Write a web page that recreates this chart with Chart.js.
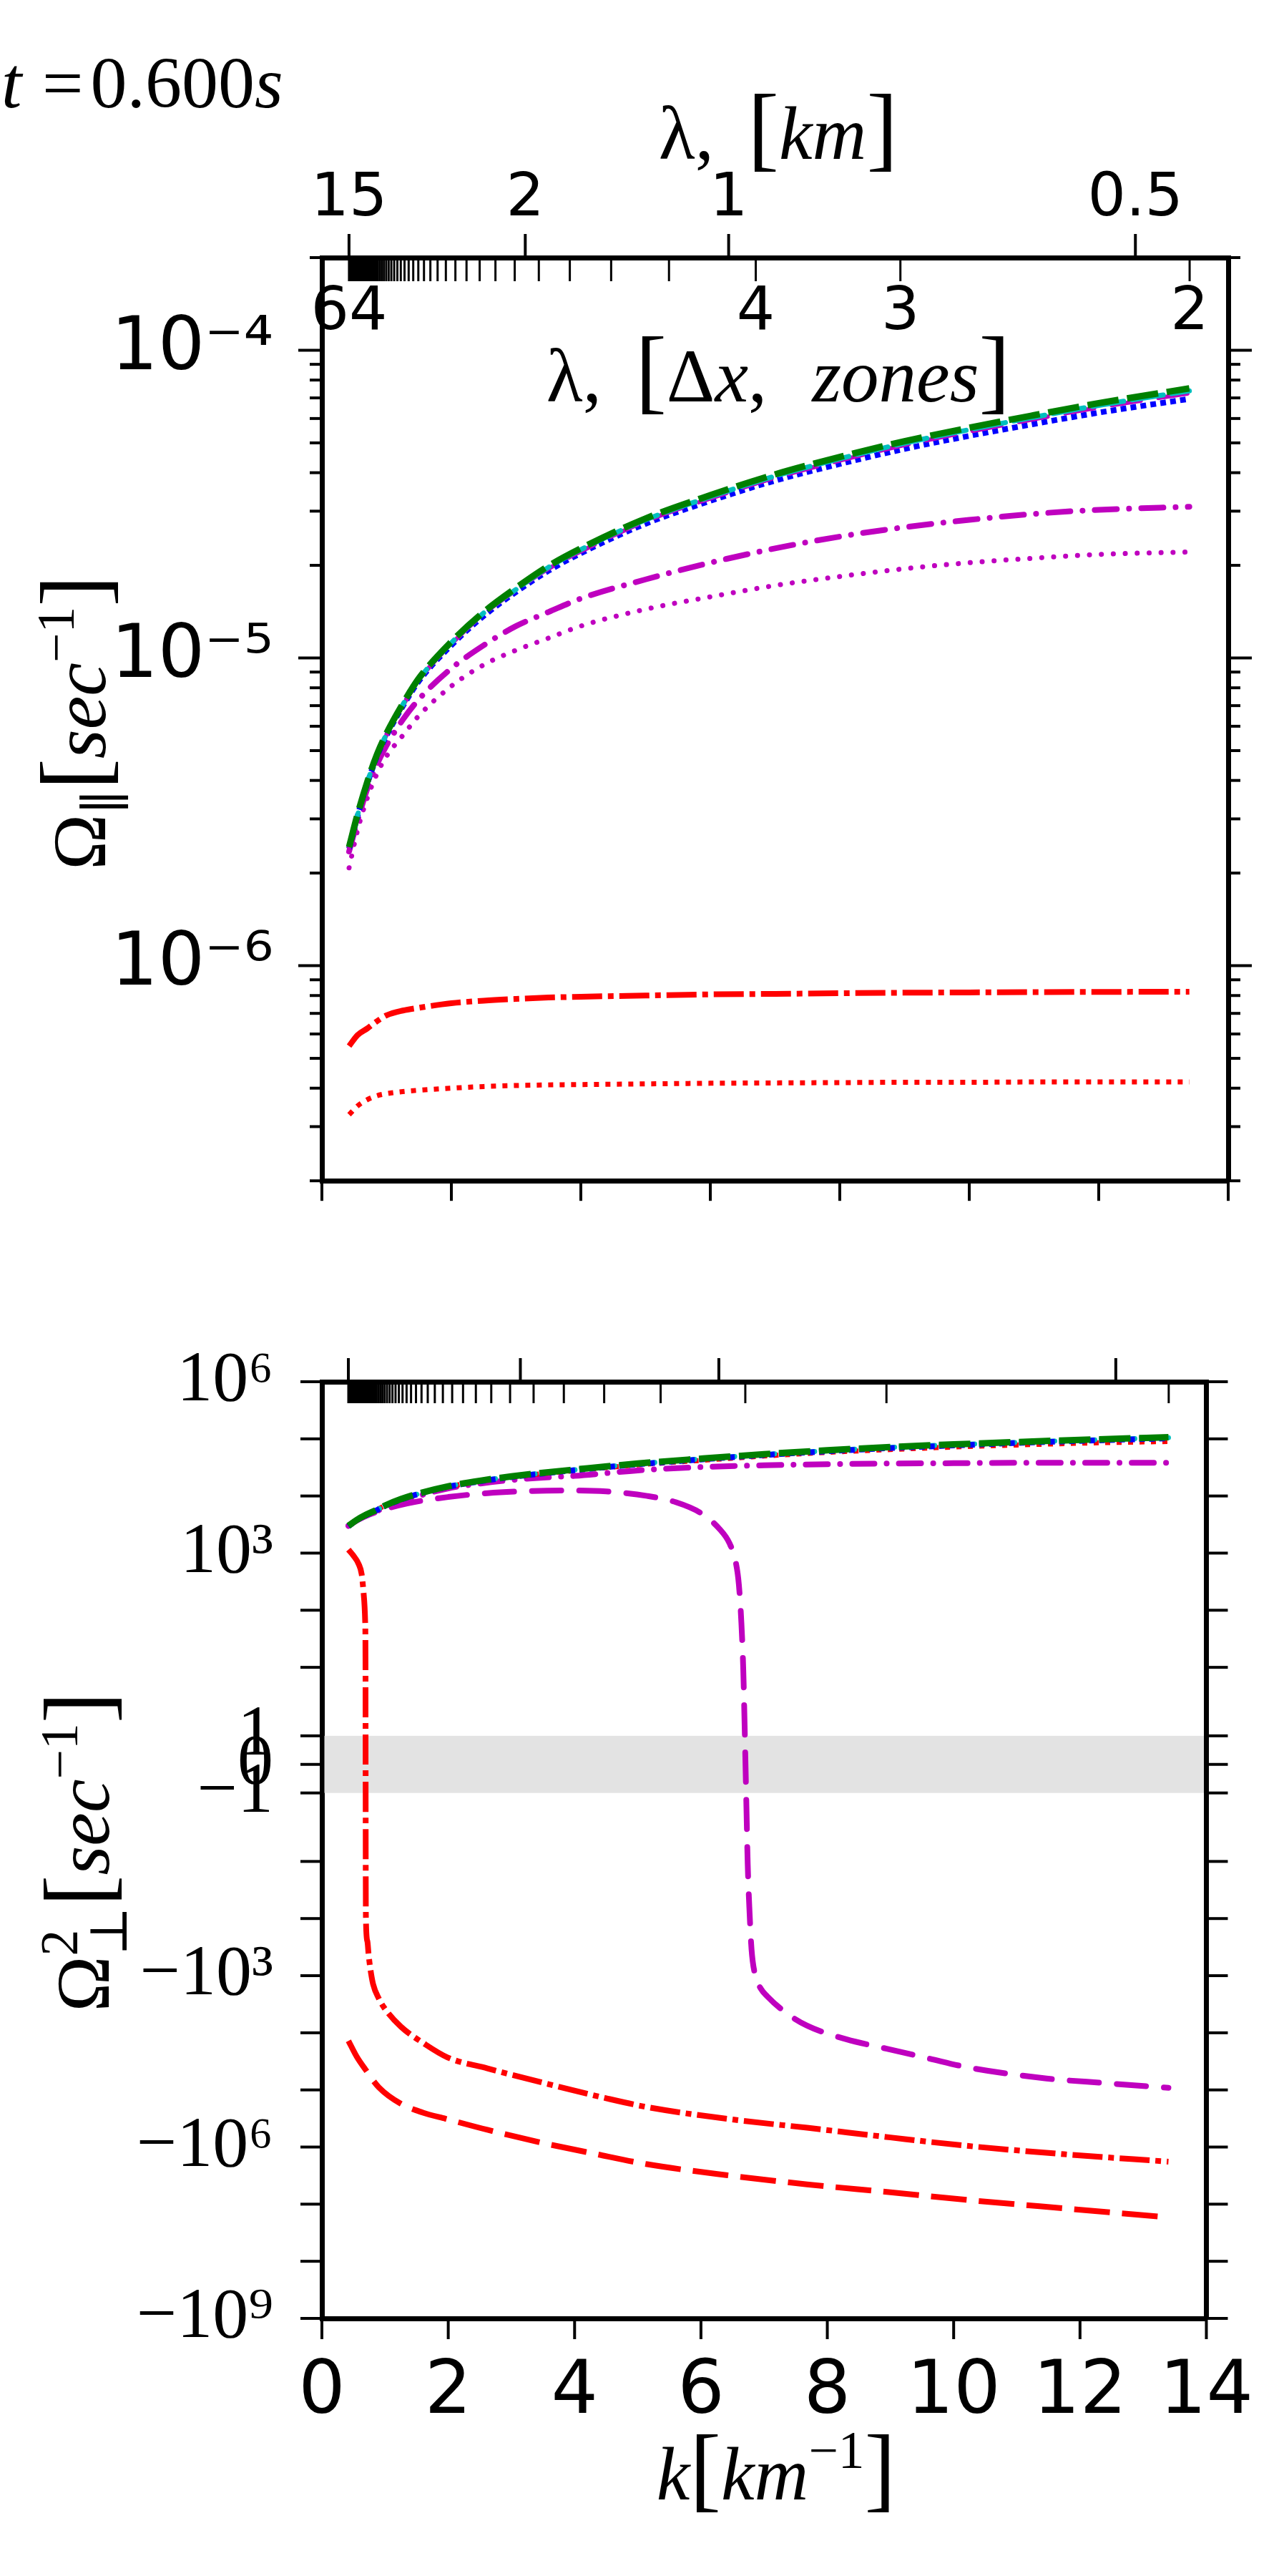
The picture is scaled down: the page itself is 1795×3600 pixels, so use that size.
<!DOCTYPE html>
<html><head><meta charset="utf-8">
<script src="https://cdn.jsdelivr.net/npm/chart.js@4.4.1/dist/chart.umd.min.js"></script>
<style>
html,body{margin:0;padding:0;background:#fff;}
body{width:1795px;height:3600px;position:relative;overflow:hidden;}
canvas{position:absolute;left:0;}
#c1{top:0;width:1795px;height:1780px;}
#c2{top:1780px;width:1795px;height:1820px;}
</style></head><body>
<canvas id="c1" width="1795" height="1780"></canvas>
<canvas id="c2" width="1795" height="1820"></canvas>
<script>
// ---------------- data ----------------
const kTop = [0.42,0.55,0.7,0.85,1.0,1.25,1.5,2.0,2.5,3.0,3.5,4.0,5.0,6.0,7.0,8.0,9.0,10.0,11.0,12.0,13.4];
const omParGreen   = [2.43e-6,3.1e-6,3.95e-6,4.85e-6,5.7e-6,7.1e-6,8.6e-6,1.13e-5,1.41e-5,1.69e-5,1.99e-5,2.27e-5,2.84e-5,3.38e-5,3.95e-5,4.5e-5,5.06e-5,5.6e-5,6.15e-5,6.73e-5,7.52e-5];
const omParCyan    = [2.42e-6,3.08e-6,3.93e-6,4.82e-6,5.66e-6,7.05e-6,8.54e-6,1.12e-5,1.4e-5,1.67e-5,1.97e-5,2.25e-5,2.81e-5,3.34e-5,3.9e-5,4.44e-5,4.99e-5,5.52e-5,6.06e-5,6.62e-5,7.38e-5];
const omParMagDash = [2.41e-6,3.07e-6,3.91e-6,4.8e-6,5.63e-6,7.0e-6,8.48e-6,1.11e-5,1.39e-5,1.66e-5,1.95e-5,2.22e-5,2.78e-5,3.3e-5,3.85e-5,4.38e-5,4.92e-5,5.44e-5,5.97e-5,6.52e-5,7.25e-5];
const omParBlue    = [2.4e-6,3.06e-6,3.9e-6,4.78e-6,5.6e-6,6.97e-6,8.42e-6,1.1e-5,1.37e-5,1.64e-5,1.92e-5,2.19e-5,2.73e-5,3.24e-5,3.77e-5,4.27e-5,4.78e-5,5.27e-5,5.76e-5,6.27e-5,6.95e-5];
const omParMagDashDot = [2.35e-6,2.95e-6,3.75e-6,4.5e-6,5.2e-6,6.3e-6,7.35e-6,9.25e-6,1.1e-5,1.27e-5,1.41e-5,1.56e-5,1.8e-5,2.04e-5,2.27e-5,2.48e-5,2.66e-5,2.81e-5,2.94e-5,3.03e-5,3.1e-5];
const omParMagDot  = [2.08e-6,2.75e-6,3.5e-6,4.2e-6,4.8e-6,5.6e-6,6.5e-6,8.1e-6,9.5e-6,1.06e-5,1.16e-5,1.27e-5,1.44e-5,1.58e-5,1.72e-5,1.84e-5,1.95e-5,2.04e-5,2.11e-5,2.17e-5,2.21e-5];
const omParRedDashDot = [5.48e-7,5.95e-7,6.25e-7,6.6e-7,6.9e-7,7.15e-7,7.3e-7,7.55e-7,7.7e-7,7.8e-7,7.88e-7,7.93e-7,8.0e-7,8.07e-7,8.1e-7,8.14e-7,8.17e-7,8.19e-7,8.21e-7,8.22e-7,8.23e-7];
const omParRedDot  = [3.28e-7,3.5e-7,3.67e-7,3.78e-7,3.84e-7,3.9e-7,3.94e-7,4.0e-7,4.05e-7,4.08e-7,4.1e-7,4.11e-7,4.13e-7,4.15e-7,4.16e-7,4.17e-7,4.18e-7,4.18e-7,4.19e-7,4.19e-7,4.19e-7];

const kBot = [0.42,0.55,0.7,0.85,1.0,1.25,1.5,2.0,2.5,3.0,3.5,4.0,5.0,6.0,7.0,8.0,9.0,10.0,11.0,12.0,13.4];
const omPerpGreen  = [3.0e3,3.8e3,4.7e3,5.6e3,6.8e3,8.8e3,1.08e4,1.48e4,1.85e4,2.2e4,2.55e4,2.9e4,3.7e4,4.5e4,5.4e4,6.3e4,7.2e4,8.0e4,8.8e4,9.6e4,1.07e5];
const omPerpCyan   = [2.98e3,3.78e3,4.65e3,5.55e3,6.75e3,8.7e3,1.07e4,1.47e4,1.83e4,2.18e4,2.52e4,2.87e4,3.65e4,4.45e4,5.32e4,6.2e4,7.1e4,7.88e4,8.66e4,9.45e4,1.05e5];
const omPerpBlue   = [2.95e3,3.75e3,4.6e3,5.5e3,6.7e3,8.6e3,1.06e4,1.45e4,1.8e4,2.14e4,2.48e4,2.82e4,3.58e4,4.35e4,5.2e4,6.05e4,6.9e4,7.65e4,8.45e4,9.2e4,1.02e5];
const omPerpRedDot = [3.0e3,3.8e3,4.7e3,5.6e3,6.8e3,8.7e3,1.06e4,1.45e4,1.8e4,2.13e4,2.46e4,2.78e4,3.5e4,4.2e4,5.0e4,5.8e4,6.5e4,7.2e4,7.8e4,8.4e4,9.0e4];
const omPerpMagDashDot = [3.0e3,3.7e3,4.5e3,5.3e3,6.3e3,8.0e3,9.8e3,1.36e4,1.65e4,1.9e4,2.1e4,2.25e4,2.8e4,3.2e4,3.45e4,3.6e4,3.7e4,3.75e4,3.8e4,3.8e4,3.8e4];

const kMagDash = [0.42,0.6,0.85,1.35,2.0,2.62,3.3,3.88,4.5,5.15,5.6,6.0,6.3,6.45,6.55,6.6,6.64,6.67,6.7,6.72,6.74,6.77,6.8,6.86,6.95,7.05,7.35,7.68,8.3,8.94,9.6,10.21,11.47,12.4,13.4];
const omPerpMagDash = [3.0e3,4.0e3,5.2e3,7.4e3,9.6e3,1.12e4,1.22e4,1.25e4,1.2e4,1.0e4,7.8e3,5.0e3,2.6e3,1.5e3,700,283,60,9,0.5,-1.5,-11,-80,-340,-1000,-1700,-2300,-4500,-7500,-1.3e4,-1.9e4,-2.8e4,-4.0e4,-6.3e4,-7.6e4,-9.2e4];
const kRedDashDot = [0.42,0.5,0.58,0.63,0.66,0.685,0.69,0.692,0.694,0.697,0.72,0.74,0.77,0.81,0.9,0.99,1.25,1.62,1.99,2.62,3.5,4.5,5.15,6.5,7.68,9.0,10.2,11.8,13.4];
const omPerpRedDashDot = [1150,900,650,425,200,62,15,0,-15,-103,-250,-435,-800,-1400,-2500,-3700,-7800,-1.55e4,-2.7e4,-4.2e4,-7.5e4,-1.4e5,-2.0e5,-3.3e5,-4.6e5,-6.8e5,-9.5e5,-1.35e6,-1.8e6];
const kRedDash = [0.42,0.55,0.69,0.9,1.25,1.6,1.96,2.62,3.5,4.3,5.15,6.4,7.68,9.0,10.2,11.8,13.4];
const omPerpRedDash = [-1.38e4,-2.6e4,-4.4e4,-9.0e4,-1.75e5,-2.5e5,-3.2e5,-5.0e5,-8.5e5,-1.3e6,-2.0e6,-3.1e6,-4.5e6,-6.2e6,-8.4e6,-1.2e7,-1.7e7];

// ---------------- ticks ----------------
const xTickValues = [0,2,4,6,8,10,12,14];
const xTickLabels = ['0','2','4','6','8','10','12','14'];
const lambdaKmTicks = [15,2,1,0.5];
const lambdaKmLabels = ['15','2','1','0.5'];
const dxKm = 15/64;
const zoneMin = 2, zoneMax = 64;
const zoneLabelCounts = [64,4,3,2];
const topYMajor = [1e-4,1e-5,1e-6];
const topYMajorLabels = ['10\u207B\u2074','10\u207B\u2075','10\u207B\u2076'];
const topYMantissas = [2,3,4,5,6,7,8,9];
const topYExponents = [-7,-6,-5,-4];
const botYMajor = [1e6,1e3,1,0,-1,-1e3,-1e6,-1e9];
const botYMajorLabels = ['10\u2076','10\u00B3','1','0','\u22121','\u221210\u00B3','\u221210\u2076','\u221210\u2079'];
const botYMinor = [1e5,1e4,1e2,1e1,-1e1,-1e2,-1e4,-1e5,-1e7,-1e8];

// ---------------- helpers ----------------
const SERIF = '"Liberation Serif","DejaVu Serif",serif';
const SANS = '"DejaVu Sans",sans-serif';
const LINTHRESH = 2;
function symlog(v){ const a=Math.abs(v); return a<=LINTHRESH ? v/LINTHRESH : Math.sign(v)*(1+Math.log10(a/LINTHRESH)); }
function zoneK(n){ return 2*Math.PI/(n*dxKm); }
function lamK(l){ return 2*Math.PI/l; }

function ds(xs, ys, color, width, dash, cap, tf, offset){
  return {data: xs.map((x,i)=>({x:x, y: tf ? tf(ys[i]) : ys[i]})), borderColor: color, borderWidth: width,
    borderDash: dash, borderCapStyle: cap||'butt', borderDashOffset: offset||0, pointRadius:0, fill:false,
    cubicInterpolationMode:'monotone', xAxisID:'x', yAxisID:'y'};
}
function drawRich(ctx, runs, x, y, size, align){
  let w=0, pend=0; const items=[];
  runs.forEach(r=>{
    const sz = size*(r.sc || ((r.sup||r.sub)?0.7:1));
    const f = (r.i?'italic ':'') + sz + 'px ' + (r.f||SERIF);
    ctx.font=f;
    const rw = ctx.measureText(r.t).width;
    items.push({t:r.t, f:f, x:w, dy: r.sup ? -0.42*size : (r.sub ? 0.24*size : 0)});
    if(r.stack){ pend=Math.max(pend,rw); }
    else { w += Math.max(rw,pend) + (r.gap||0)*size; pend=0; }
  });
  const x0 = align==='center' ? x-w/2 : (align==='right' ? x-w : x);
  ctx.textAlign='left'; ctx.textBaseline='alphabetic'; ctx.fillStyle='#000';
  items.forEach(it=>{ ctx.font=it.f; ctx.fillText(it.t, x0+it.x, y+it.dy); });
}
function seg(ctx,x1,y1,x2,y2,w){ ctx.lineWidth=w; ctx.beginPath(); ctx.moveTo(x1,y1); ctx.lineTo(x2,y2); ctx.stroke(); }

const COL = {g:'#008000', b:'#0000ff', c:'#00bfbf', m:'#bf00bf', r:'#ff0000'};
const DASH = [44,12], DASHR=[50,17], DASHM=[41,25], DDOT=[42,8,8,8], DDOTM=[31,17,0.1,17], DOTSQ=[7,9], DOTB=[8,6], DOTR=[0.1,16.6];

const topMinorTicks = [];
topYExponents.forEach(e=>topYMantissas.forEach(m=>{ const v=m*Math.pow(10,e); if(v>=2e-7-1e-12 && v<=2e-4+1e-12) topMinorTicks.push(v); }));

// ---------------- top chart ----------------
const topDecor = {
  id:'topDecor',
  afterDraw(chart){
    const ctx=chart.ctx, a=chart.chartArea, xs=chart.scales.x, ys=chart.scales.y;
    ctx.save(); ctx.strokeStyle='#000'; ctx.lineCap='butt';
    xTickValues.forEach(v=>{ const p=xs.getPixelForValue(v); seg(ctx,p,a.bottom,p,a.bottom+28,4); });
    lambdaKmTicks.forEach(l=>{ const p=xs.getPixelForValue(lamK(l)); seg(ctx,p,a.top,p,a.top-33,4); });
    for(let n=zoneMin;n<=zoneMax;n++){ const p=xs.getPixelForValue(zoneK(n)); seg(ctx,p,a.top,p,a.top+33,3); }
    topYMajor.forEach(v=>{ const p=ys.getPixelForValue(v); seg(ctx,a.left,p,a.left-33,p,4); seg(ctx,a.right,p,a.right+33,p,4); });
    topMinorTicks.forEach(v=>{ const p=ys.getPixelForValue(v); seg(ctx,a.left,p,a.left-17,p,4); seg(ctx,a.right,p,a.right+17,p,4); });
    ctx.fillStyle='#000'; ctx.font='84px '+SANS; ctx.textAlign='center'; ctx.textBaseline='middle';
    zoneLabelCounts.forEach(n=>ctx.fillText(String(n), xs.getPixelForValue(zoneK(n)), 438));
    drawRich(ctx,[{t:'t',i:1,gap:0.28},{t:'=',gap:0.1},{t:'0.600'},{t:'s',i:1}], 2, 150, 102, 'left');
    drawRich(ctx,[{t:'\u03BB,',gap:0.45},{t:'[',sc:1.25},{t:'km',i:1},{t:']',sc:1.25}], 1088, 222, 105, 'center');
    drawRich(ctx,[{t:'\u03BB,',gap:0.45},{t:'[',sc:1.25},{t:'\u0394'},{t:'x',i:1},{t:',',gap:0.6},{t:'zones',i:1},{t:']',sc:1.25}], 1088, 561, 105, 'center');
    ctx.save(); ctx.translate(147,1010); ctx.rotate(-Math.PI/2);
    drawRich(ctx,[{t:'\u03A9'},{t:'\u2225',sub:1},{t:'[',sc:1.25},{t:'sec',i:1},{t:'\u22121',sup:1},{t:']',sc:1.25}], 0, 0, 105, 'center');
    ctx.restore();
    ctx.restore();
  }
};

new Chart(document.getElementById('c1'), {
  type:'line',
  data:{datasets:[
    ds(kTop, omParGreen, COL.g, 9, DASH, 'butt'),
    ds(kTop, omParCyan, COL.c, 7, DASH, 'round', null, -6),
    ds(kTop, omParMagDash, COL.m, 6, DASHM, 'round'),
    ds(kTop, omParBlue, COL.b, 8, DOTB, 'butt'),
    ds(kTop, omParMagDashDot, COL.m, 8, DDOTM, 'round'),
    ds(kTop, omParMagDot, COL.m, 7, DOTR, 'round'),
    ds(kTop, omParRedDashDot, COL.r, 8, DDOT, 'butt'),
    ds(kTop, omParRedDot, COL.r, 7, DOTSQ, 'butt')
  ]},
  options:{
    responsive:false, animation:false, devicePixelRatio:1, layout:{padding:0},
    plugins:{legend:{display:false}, tooltip:{enabled:false}, title:{display:false}},
    scales:{
      x:{type:'linear',position:'bottom',min:0,max:14,grid:{display:false,drawTicks:false},ticks:{display:false},
         border:{display:true,width:7,color:'#000'},afterFit:s=>{s.height=1780-1669;}},
      xT:{type:'linear',position:'top',min:0,max:14,grid:{display:false,drawTicks:false},border:{display:true,width:7,color:'#000'},
         afterBuildTicks:s=>{s.ticks=lambdaKmTicks.map(l=>({value:lamK(l)}));},
         ticks:{autoSkip:false,maxRotation:0,padding:30,color:'#000',font:{family:SANS,size:84},callback:(v,i)=>lambdaKmLabels[i]},
         afterFit:s=>{s.height=360;}},
      y:{type:'logarithmic',position:'left',min:2e-7,max:2e-4,grid:{display:false,drawTicks:false},border:{display:true,width:7,color:'#000'},
         afterBuildTicks:s=>{s.ticks=topYMajor.map(v=>({value:v}));},
         ticks:{autoSkip:false,padding:68,color:'#000',font:{family:SANS,size:103},callback:(v,i)=>topYMajorLabels[i]},
         afterFit:s=>{s.width=450;}},
      yR:{type:'logarithmic',position:'right',min:2e-7,max:2e-4,grid:{display:false,drawTicks:false},border:{display:true,width:7,color:'#000'},
         ticks:{display:false},afterFit:s=>{s.width=1795-1717;}}
    }
  },
  plugins:[topDecor]
});

// ---------------- bottom chart ----------------
const botDecor = {
  id:'botDecor',
  beforeDatasetsDraw(chart){
    const ctx=chart.ctx, a=chart.chartArea, ys=chart.scales.y;
    const y1=ys.getPixelForValue(symlog(1)), y2=ys.getPixelForValue(symlog(-1));
    ctx.save(); ctx.fillStyle='#e3e3e3'; ctx.fillRect(a.left+3.5,y1,a.right-a.left-7,y2-y1); ctx.restore();
  },
  afterDraw(chart){
    const ctx=chart.ctx, a=chart.chartArea, xs=chart.scales.x, ys=chart.scales.y;
    ctx.save(); ctx.strokeStyle='#000'; ctx.lineCap='butt';
    xTickValues.forEach(v=>{ const p=xs.getPixelForValue(v); seg(ctx,p,a.bottom,p,a.bottom+29,4); });
    lambdaKmTicks.forEach(l=>{ const p=xs.getPixelForValue(lamK(l)); seg(ctx,p,a.top,p,a.top-33,4); });
    for(let n=zoneMin;n<=zoneMax;n++){ const p=xs.getPixelForValue(zoneK(n)); seg(ctx,p,a.top,p,a.top+30,3); }
    botYMajor.concat(botYMinor).forEach(v=>{ const p=ys.getPixelForValue(symlog(v)); seg(ctx,a.left,p,a.left-30,p,4); seg(ctx,a.right,p,a.right+30,p,4); });
    drawRich(ctx,[{t:'k',i:1},{t:'[',sc:1.25},{t:'km',i:1},{t:'\u22121',sup:1},{t:']',sc:1.25}], 1085, 3493-1780, 105, 'center');
    ctx.save(); ctx.translate(152,2588-1780); ctx.rotate(-Math.PI/2);
    drawRich(ctx,[{t:'\u03A9'},{t:'2',sup:1,stack:1},{t:'\u22A5',sub:1},{t:'[',sc:1.25},{t:'sec',i:1},{t:'\u22121',sup:1},{t:']',sc:1.25}], 0, 0, 105, 'center');
    ctx.restore();
    ctx.restore();
  }
};

new Chart(document.getElementById('c2'), {
  type:'line',
  data:{datasets:[
    ds(kBot, omPerpGreen, COL.g, 9, DASH, 'butt', symlog),
    ds(kBot, omPerpBlue, COL.b, 8, DOTB, 'butt', symlog),
    ds(kBot, omPerpCyan, COL.c, 7, DASH, 'round', symlog, -6),
    ds(kBot, omPerpRedDot, COL.r, 7, DOTSQ, 'butt', symlog),
    ds(kBot, omPerpMagDashDot, COL.m, 8, DDOTM, 'round', symlog),
    ds(kMagDash, omPerpMagDash, COL.m, 8, DASHM, 'round', symlog),
    ds(kRedDashDot, omPerpRedDashDot, COL.r, 8, DDOT, 'butt', symlog),
    ds(kRedDash, omPerpRedDash, COL.r, 8, DASHR, 'butt', symlog)
  ]},
  options:{
    responsive:false, animation:false, devicePixelRatio:1, layout:{padding:0},
    plugins:{legend:{display:false}, tooltip:{enabled:false}, title:{display:false}},
    scales:{
      x:{type:'linear',position:'bottom',min:0,max:14,grid:{display:false,drawTicks:false},border:{display:true,width:7,color:'#000'},
         afterBuildTicks:s=>{s.ticks=xTickValues.map(v=>({value:v}));},
         ticks:{autoSkip:false,maxRotation:0,padding:43,color:'#000',font:{family:SANS,size:103},callback:(v,i)=>xTickLabels[i]},
         afterFit:s=>{s.height=1820-1460;}},
      xT:{type:'linear',position:'top',min:0,max:14,grid:{display:false,drawTicks:false},border:{display:true,width:7,color:'#000'},
         ticks:{display:false},afterFit:s=>{s.height=151;}},
      y:{type:'linear',position:'left',min:symlog(-1e9),max:symlog(1e6),grid:{display:false,drawTicks:false},border:{display:true,width:7,color:'#000'},
         afterBuildTicks:s=>{s.ticks=botYMajor.map(v=>({value:symlog(v)}));},
         ticks:{autoSkip:false,padding:68,color:'#000',font:{family:SERIF,size:100},callback:(v,i)=>botYMajorLabels[i]},
         afterFit:s=>{s.width=450;}},
      yR:{type:'linear',position:'right',min:symlog(-1e9),max:symlog(1e6),grid:{display:false,drawTicks:false},border:{display:true,width:7,color:'#000'},
         ticks:{display:false},afterFit:s=>{s.width=1795-1717;}}
    }
  },
  plugins:[botDecor]
});
</script></body></html>
